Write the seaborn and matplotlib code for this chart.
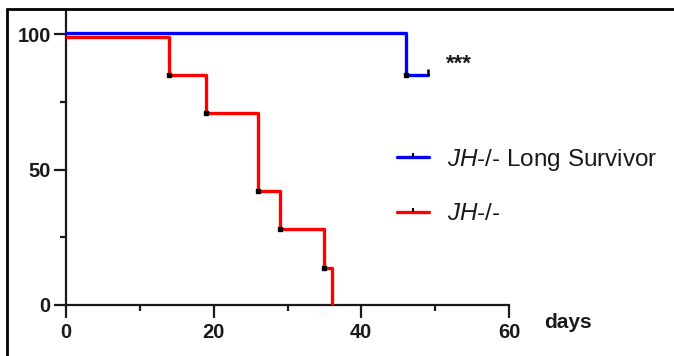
import matplotlib
matplotlib.use("Agg")
import matplotlib.pyplot as plt
from matplotlib.lines import Line2D
import seaborn as sns
import pandas as pd

# Data
blue_days = [0, 46, 49]
blue_surv = [100.4, 85, 85]
red_days = [0, 14, 19, 26, 29, 35, 36]
red_surv = [99, 85, 71, 42, 28, 13.5, 0]
blue_label = r"$\mathit{JH\text{-}/\text{-}}$ Long Survivor"
red_label = r"$\mathit{JH\text{-}/\text{-}}$"
x_ticks = [0, 20, 40, 60]
y_ticks = [0, 50, 100]

sns.set_style("ticks")
plt.rcParams["font.family"] = ["Liberation Sans", "DejaVu Sans"]
plt.rcParams["mathtext.fontset"] = "custom"
plt.rcParams["mathtext.it"] = "Liberation Sans:italic"
plt.rcParams["mathtext.rm"] = "Liberation Sans"

BLUE = "#0000FF"
RED = "#FF0000"
INK = "#1a1a1a"

fig = plt.figure(figsize=(6.74, 3.56), dpi=100)
ax = fig.add_axes([66 / 674, 1 - 305 / 356, 443 / 674, 295 / 356])

df_b = pd.DataFrame({"days": blue_days, "surv": blue_surv})
df_r = pd.DataFrame({"days": red_days, "surv": red_surv})

sns.lineplot(data=df_b, x="days", y="surv", ax=ax, color=BLUE, lw=2.4,
             drawstyle="steps-post", estimator=None, sort=False, zorder=3)
sns.lineplot(data=df_r, x="days", y="surv", ax=ax, color=RED, lw=2.4,
             drawstyle="steps-post", estimator=None, sort=False, zorder=3)

# event marks
ax.plot(red_days[1:-1], red_surv[1:-1], ls="none", marker="s", ms=2.2,
        color="black", zorder=4)
ax.plot(blue_days[1:2], blue_surv[1:2], ls="none", marker="s", ms=2.2,
        color="black", zorder=4)
ax.plot(blue_days[-1:], blue_surv[-1:], ls="none", marker=2, ms=4,
        mew=1.8, color="black", zorder=4)

ax.set_xlim(0, 60)
ax.set_ylim(0, 108.9)
ax.set_xticks(x_ticks)
ax.set_xticks([10, 30, 50], minor=True)
ax.set_yticks(y_ticks)
ax.set_yticks([25, 75], minor=True)
ax.set_xlabel("")
ax.set_ylabel("")
for s in ["top", "right"]:
    ax.spines[s].set_visible(False)
for s in ["left", "bottom"]:
    ax.spines[s].set_linewidth(1.6)
    ax.spines[s].set_color(INK)
ax.tick_params(which="major", length=9, width=1.6, color=INK,
               labelsize=14.5, pad=2)
ax.tick_params(which="minor", length=4.5, width=1.6, color=INK)
ax.tick_params(axis="x", which="major", pad=4)
for lab in ax.get_xticklabels() + ax.get_yticklabels():
    lab.set_fontweight("bold")
    lab.set_color(INK)

fig.text(544 / 674, 1 - 323 / 356, "days", fontsize=15, fontweight="bold",
         color=INK, va="center", ha="left")
fig.text(446 / 674, 1 - 70 / 356, "***", fontsize=16, fontweight="bold",
         color=INK, va="baseline", ha="left")

handles = [
    Line2D([], [], color=BLUE, lw=2.4, marker=2, ms=3, mec="black",
           mew=1.5, label=blue_label),
    Line2D([], [], color=RED, lw=2.4, marker=2, ms=3, mec="black",
           mew=1.5, label=red_label),
]
ax.legend(handles=handles, loc="upper left",
          bbox_to_anchor=(397 / 674, 1 - 147 / 356),
          bbox_transform=fig.transFigure, frameon=False, fontsize=17.5,
          handlelength=1.3, handletextpad=0.75, labelspacing=1.25,
          borderpad=0, borderaxespad=0, numpoints=1, labelcolor=INK)

# screenshot frame (top and left edges)
fig.add_artist(Line2D([7 / 674, 1], [1 - 9 / 356, 1 - 9 / 356],
                      transform=fig.transFigure, color="black", lw=2))
fig.add_artist(Line2D([7 / 674, 7 / 674], [0, 1 - 9 / 356],
                      transform=fig.transFigure, color="black", lw=2))

fig.savefig("out.png", dpi=100)
